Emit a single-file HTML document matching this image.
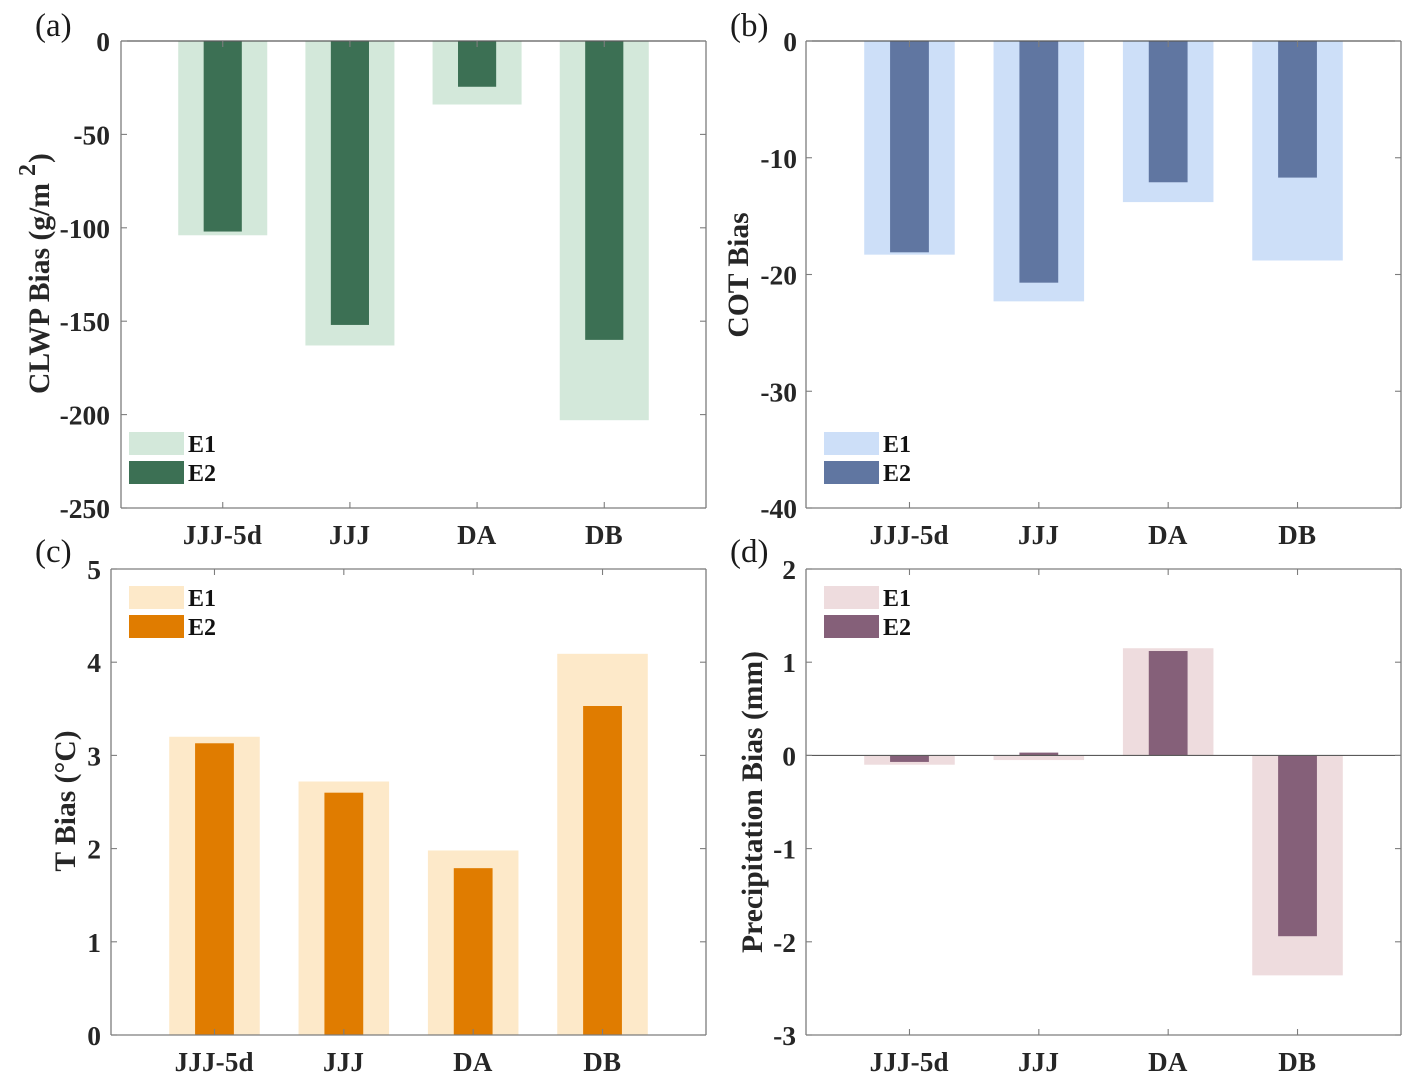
<!DOCTYPE html>
<html lang="en">
<head>
<meta charset="utf-8">
<title>Bias bar charts</title>
<style>
html,body{margin:0;padding:0;background:#fff;}
svg{display:block;}
text{font-family:"Liberation Serif",serif;}
</style>
</head>
<body>
<svg id="figure" width="1421" height="1083" viewBox="0 0 1421 1083" xmlns="http://www.w3.org/2000/svg"></svg>
<script>
const categories = ["JJJ-5d", "JJJ", "DA", "DB"];
const seriesNames = ["E1", "E2"];

const clwpE1 = [-104, -163, -34, -203];
const clwpE2 = [-102, -152, -24.5, -160];
const clwpTicks = [0, -50, -100, -150, -200, -250];

const cotE1 = [-18.3, -22.3, -13.8, -18.8];
const cotE2 = [-18.1, -20.7, -12.1, -11.7];
const cotTicks = [0, -10, -20, -30, -40];

const tempE1 = [3.2, 2.72, 1.98, 4.09];
const tempE2 = [3.13, 2.6, 1.79, 3.53];
const tempTicks = [0, 1, 2, 3, 4, 5];

const precipE1 = [-0.1, -0.05, 1.15, -2.36];
const precipE2 = [-0.07, 0.03, 1.12, -1.94];
const precipTicks = [-3, -2, -1, 0, 1, 2];

const NS = "http://www.w3.org/2000/svg";
const svg = document.getElementById("figure");
const TEXT = "#262626";
const AXIS = "#7d7d7d";

function rect(x, y, w, h, fill, name) {
  const el = document.createElementNS(NS, "rect");
  el.setAttribute("x", x);
  el.setAttribute("y", y);
  el.setAttribute("width", w);
  el.setAttribute("height", h);
  el.setAttribute("fill", fill);
  
  
  svg.appendChild(el);
  return el;
}
function line(x1, y1, x2, y2, stroke, sw, name) {
  const el = document.createElementNS(NS, "line");
  el.setAttribute("x1", x1);
  el.setAttribute("y1", y1);
  el.setAttribute("x2", x2);
  el.setAttribute("y2", y2);
  el.setAttribute("stroke", stroke);
  el.setAttribute("stroke-width", sw);
  
  
  svg.appendChild(el);
  return el;
}
function label(x, y, str, size, anchor, weight, fill, name) {
  const el = document.createElementNS(NS, "text");
  el.setAttribute("x", x);
  el.setAttribute("y", y);
  el.setAttribute("font-size", size);
  el.setAttribute("text-anchor", anchor);
  el.setAttribute("font-weight", weight);
  el.setAttribute("fill", fill);
  
  
  el.textContent = str;
  svg.appendChild(el);
  return el;
}

function drawPanel(p) {
  const xOf = function (i) { return p.left + (i + 1 - 0.2) / 4.6 * (p.right - p.left); };
  const yOf = function (v) { return p.top + (p.yMax - v) / (p.yMax - p.yMin) * (p.bottom - p.top); };
  const unit = (p.right - p.left) / 4.6;
  const drawBars = function (values, colour, widthFactor, series) {
    values.forEach(function (v, i) {
      const a = yOf(0), b = yOf(v);
      rect(xOf(i) - unit * widthFactor / 2, Math.min(a, b), unit * widthFactor, Math.abs(b - a), colour,
        p.id + "-bar-" + series + "-" + categories[i].toLowerCase());
    });
  };
  drawBars(p.e1, p.c1, 0.7, "e1");
  drawBars(p.e2, p.c2, 0.3, "e2");

  // box
  line(p.left, p.top, p.right, p.top, p.id === "clwp" || p.id === "cot" ? "#5a5a5a" : AXIS, 1.3, p.id + "-top-axis");
  line(p.left, p.bottom, p.right, p.bottom, AXIS, 1.3, p.id + "-x-axis");
  line(p.left, p.top, p.left, p.bottom, AXIS, 1.3, p.id + "-y-axis");
  line(p.right, p.top, p.right, p.bottom, AXIS, 1.3, p.id + "-right-axis");
  if (p.id === "precip") {
    line(p.left, yOf(0), p.right, yOf(0), "#5a5a5a", 1.1, "precip-zero-line");
  }

  // y ticks and labels
  p.ticks.forEach(function (t) {
    const y = yOf(t);
    line(p.left, y, p.left + 6, y, AXIS, 1.1, p.id + "-y-tick");
    line(p.right, y, p.right - 6, y, AXIS, 1.1, p.id + "-y-tick-right");
    label(p.left - p.tickGap, y + 10, String(t), 27.5, "end", "bold", TEXT, p.id + "-y-tick-label");
  });

  // x ticks and labels
  categories.forEach(function (c, i) {
    const x = xOf(i);
    line(x, p.bottom, x, p.bottom - 6, AXIS, 1.1, p.id + "-x-tick");
    line(x, p.top, x, p.top + 6, AXIS, 1.1, p.id + "-x-tick-top");
    const t = label(x - 0.3, p.bottom + 36, c, 27, "middle", "bold", TEXT, p.id + "-x-tick-label");
    t.setAttribute("letter-spacing", "0.2");
  });

  // legend
  seriesNames.forEach(function (s, i) {
    const y = p.legendY + i * 29;
    rect(p.legendX, y, 55, 23, i === 0 ? p.c1 : p.c2, p.id + "-legend-swatch-" + s.toLowerCase());
    label(p.legendX + 59, y + 20, s, 24, "start", "bold", "#111", p.id + "-legend-label-" + s.toLowerCase());
  });

  // panel letter
  label(p.letterX, p.letterY, p.letter, 33, "start", "normal", "#1a1a1a", p.id + "-panel-label");

  // y-axis title
  const title = label(0, 0, p.title, 29.6, "middle", "bold", TEXT, p.id + "-y-axis-title");
  title.setAttribute("transform", "translate(" + p.titleX + "," + p.titleY + ") rotate(-90)");
  return title;
}

drawPanel({
  id: "clwp", letter: "(a)", title: "CLWP Bias (g/m", left: 121, right: 706, top: 41, bottom: 508,
  yMin: -250, yMax: 0, ticks: clwpTicks, e1: clwpE1, e2: clwpE2, c1: "#d3e8da", c2: "#3c7054",
  tickGap: 11, legendX: 129, legendY: 432, letterX: 35, letterY: 36, titleX: 49, titleY: 288.5
});
drawPanel({
  id: "cot", letter: "(b)", title: "COT Bias", left: 806, right: 1401, top: 41, bottom: 508,
  yMin: -40, yMax: 0, ticks: cotTicks, e1: cotE1, e2: cotE2, c1: "#cddff8", c2: "#6076a1",
  tickGap: 9, legendX: 824, legendY: 432, letterX: 730, letterY: 36, titleX: 748, titleY: 275
});
drawPanel({
  id: "temp", letter: "(c)", title: "T Bias (°C)", left: 111, right: 706, top: 569, bottom: 1035,
  yMin: 0, yMax: 5, ticks: tempTicks, e1: tempE1, e2: tempE2, c1: "#fde9c9", c2: "#e07c00",
  tickGap: 10, legendX: 129, legendY: 586, letterX: 35, letterY: 562, titleX: 75, titleY: 801
});
drawPanel({
  id: "precip", letter: "(d)", title: "Precipitation Bias (mm)", left: 806, right: 1401, top: 569, bottom: 1035,
  yMin: -3, yMax: 2, ticks: precipTicks, e1: precipE1, e2: precipE2, c1: "#eedcde", c2: "#856079",
  tickGap: 10, legendX: 824, legendY: 586, letterX: 730, letterY: 562, titleX: 762, titleY: 802
});

// superscript and closing bracket of the CLWP y-axis title
const sup = label(0, 0, "2", 24, "start", "bold", TEXT, "clwp-y-axis-title-superscript");
sup.setAttribute("transform", "translate(35,176) rotate(-90)");
const closing = label(0, 0, ")", 29.6, "start", "bold", TEXT, "clwp-y-axis-title-close-bracket");
closing.setAttribute("transform", "translate(49,163) rotate(-90)");
</script>
</body>
</html>
